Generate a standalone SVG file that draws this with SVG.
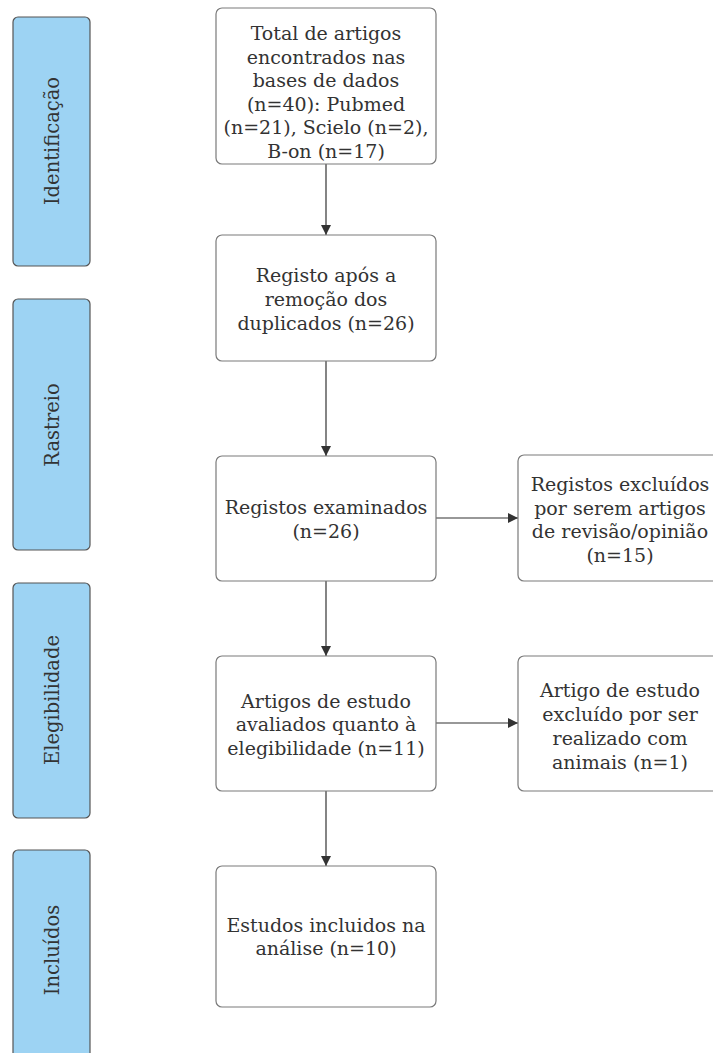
<svg xmlns="http://www.w3.org/2000/svg" width="713" height="1053" viewBox="0 0 713 1053">
<style>
.bar{fill:#9dd3f3;stroke:#555;stroke-width:1.2}
.box{fill:#fff;stroke:#7a7a7a;stroke-width:1.2}
.t{font-family:"DejaVu Serif","Liberation Serif",serif;font-size:19px;fill:#333;text-anchor:middle}
.s{font-size:19.5px}
.c{stroke:#333;stroke-width:1.2;fill:none;marker-end:url(#a)}
</style>
<defs>
<marker id="a" viewBox="0 0 10 10" refX="10" refY="5" markerWidth="10" markerHeight="10" markerUnits="userSpaceOnUse" orient="auto">
<path d="M0,0 L10,5 L0,10 z" fill="#333"/>
</marker>
</defs>
<rect width="713" height="1053" fill="#fff"/>
<g id="lane-identificacao"><rect class="bar" x="13" y="17" width="77" height="249" rx="5"/><text class="t s" transform="translate(59,141) rotate(-90)">Identificação</text></g>
<g id="lane-rastreio"><rect class="bar" x="13" y="299" width="77" height="251" rx="5"/><text class="t s" transform="translate(59,425) rotate(-90)">Rastreio</text></g>
<g id="lane-elegibilidade"><rect class="bar" x="13" y="583" width="77" height="235" rx="5"/><text class="t s" transform="translate(59,700) rotate(-90)">Elegibilidade</text></g>
<g id="lane-incluidos"><rect class="bar" x="13" y="850" width="77" height="215" rx="5"/><text class="t s" transform="translate(59,950) rotate(-90)">Incluídos</text></g>
<g id="connectors">
<line class="c" x1="326" y1="164" x2="326" y2="235"/>
<line class="c" x1="326" y1="361" x2="326" y2="456"/>
<line class="c" x1="326" y1="581" x2="326" y2="656"/>
<line class="c" x1="326" y1="791" x2="326" y2="866"/>
<line class="c" x1="436" y1="518" x2="518" y2="518"/>
<line class="c" x1="436" y1="723" x2="518" y2="723"/>
</g>
<g id="n1"><rect class="box" x="216" y="8" width="220" height="156" rx="6"/>
<text class="t"><tspan x="326" y="40">Total de artigos</tspan><tspan x="326" y="64">encontrados nas</tspan><tspan x="326" y="87">bases de dados</tspan><tspan x="326" y="111">(n=40): Pubmed</tspan><tspan x="326" y="134">(n=21), Scielo (n=2),</tspan><tspan x="326" y="158">B-on (n=17)</tspan></text></g>
<g id="n2"><rect class="box" x="216" y="235" width="220" height="126" rx="6"/>
<text class="t"><tspan x="326" y="282">Registo após a</tspan><tspan x="326" y="306">remoção dos</tspan><tspan x="326" y="330">duplicados (n=26)</tspan></text></g>
<g id="n3"><rect class="box" x="216" y="456" width="220" height="125" rx="6"/>
<text class="t"><tspan x="326" y="514">Registos examinados</tspan><tspan x="326" y="538">(n=26)</tspan></text></g>
<g id="n3x"><rect class="box" x="518" y="455" width="204" height="126" rx="6"/>
<text class="t"><tspan x="620" y="491">Registos excluídos</tspan><tspan x="620" y="515">por serem artigos</tspan><tspan x="620" y="538">de revisão/opinião</tspan><tspan x="620" y="562">(n=15)</tspan></text></g>
<g id="n4"><rect class="box" x="216" y="656" width="220" height="135" rx="6"/>
<text class="t"><tspan x="326" y="708">Artigos de estudo</tspan><tspan x="326" y="731">avaliados quanto à</tspan><tspan x="326" y="755">elegibilidade (n=11)</tspan></text></g>
<g id="n4x"><rect class="box" x="518" y="656" width="204" height="135" rx="6"/>
<text class="t"><tspan x="620" y="697">Artigo de estudo</tspan><tspan x="620" y="721">excluído por ser</tspan><tspan x="620" y="745">realizado com</tspan><tspan x="620" y="769">animais (n=1)</tspan></text></g>
<g id="n5"><rect class="box" x="216" y="866" width="220" height="141" rx="6"/>
<text class="t"><tspan x="326" y="932">Estudos incluidos na</tspan><tspan x="326" y="955">análise (n=10)</tspan></text></g>
</svg>
